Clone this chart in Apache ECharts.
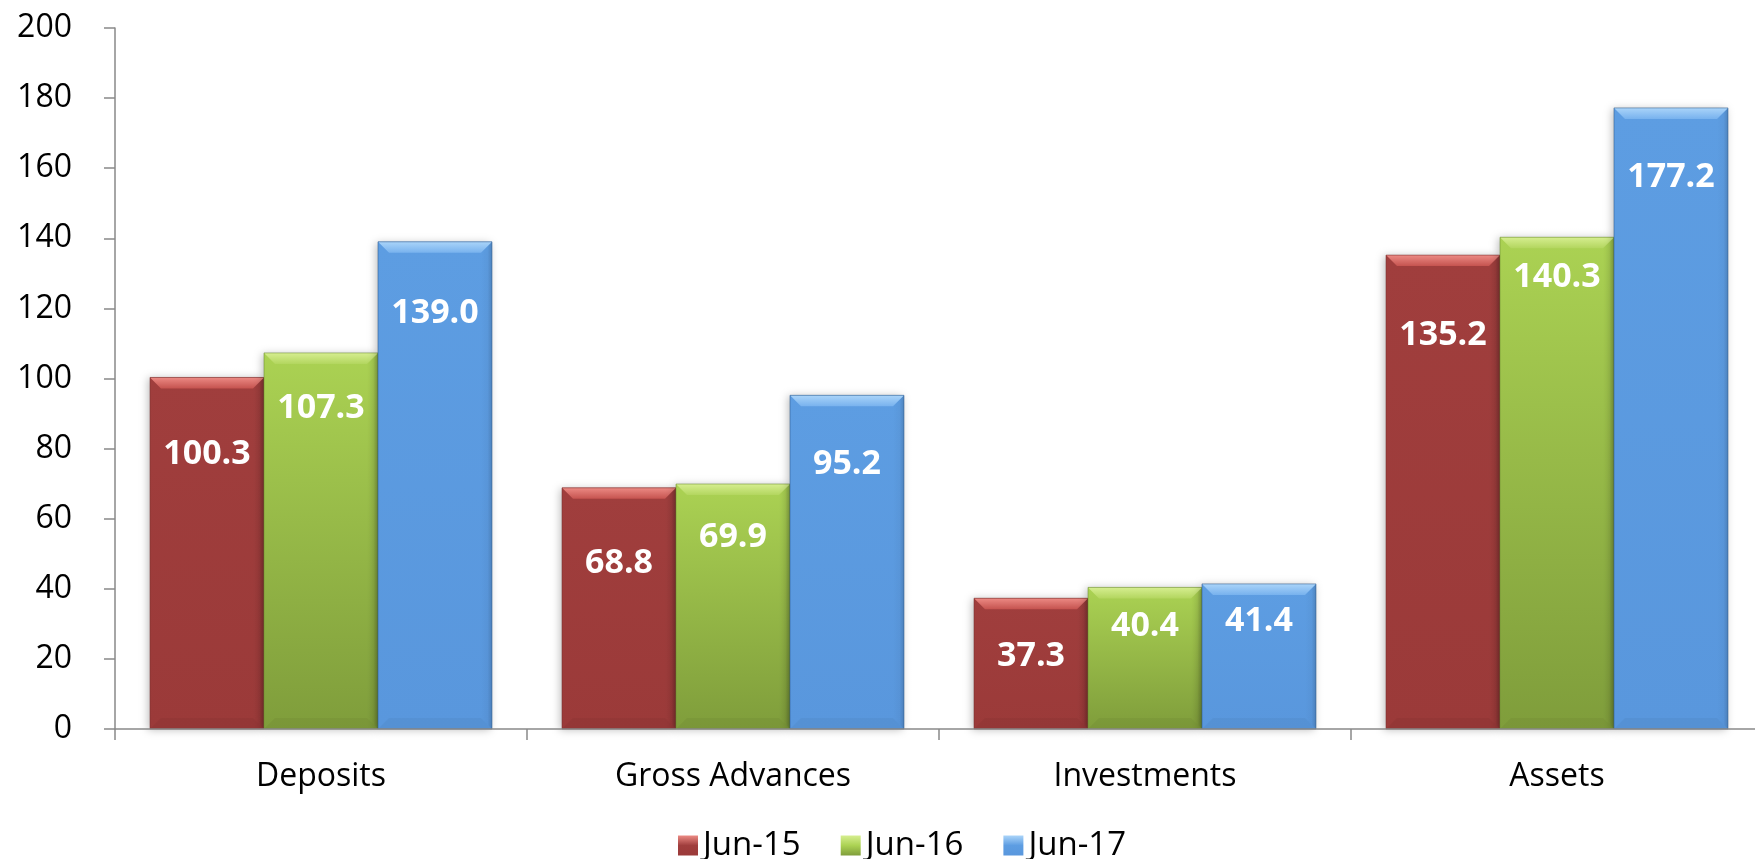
<!DOCTYPE html>
<html>
<head>
<meta charset="utf-8">
<title>Deposits, Advances, Investments and Assets</title>
<script src="https://cdn.jsdelivr.net/npm/echarts@6/dist/echarts.min.js"></script>
<style>
  html, body { margin: 0; padding: 0; background: #ffffff; }
  #chart { width: 1755px; height: 859px; }
</style>
</head>
<body>
<div id="chart"></div>
<script>
// ---- data ----
const categories = ['Deposits', 'Gross Advances', 'Investments', 'Assets'];
const periods = ['Jun-15', 'Jun-16', 'Jun-17'];
const jun15 = [100.3, 68.8, 37.3, 135.2];
const jun16 = [107.3, 69.9, 40.4, 140.3];
const jun17 = [139.0, 95.2, 41.4, 177.2];
const valueAxisMin = 0;
const valueAxisMax = 200;
const valueAxisStep = 20;

// ---- styling ----
const FONT = '"Open Sans", "Noto Sans", sans-serif';
const GROUP_GAP = 0.17;   // share of each category left empty between groups
const BEVEL = 11;         // bevel depth in px

// distance (px) from a bar's top to the centre of its value label
const labelDrop = [
  [77, 75, 58, 80],
  [55, 53, 39, 40],
  [72, 69, 37, 69]
];

const LG = echarts.graphic.LinearGradient;
const palettes = [
  { // Jun-15
    body: ['#A03E3D', '#9B3A39'],
    top: ['#EC8A84', '#C5534F'],
    edge: '#772B2A'
  },
  { // Jun-16
    body: ['#ABD253', '#7F9D3B'],
    top: ['#D6EE90', '#B3D65F'],
    edge: '#6C8A32'
  },
  { // Jun-17
    body: ['#5D9DE2', '#5997DD'],
    top: ['#AAD4F9', '#78B2EE'],
    edge: '#2D5A8C'
  }
];
const seriesValues = [jun15, jun16, jun17];

function vGrad(c) {
  return new LG(0, 0, 0, 1, [{ offset: 0, color: c[0] }, { offset: 1, color: c[1] }]);
}

function makeRender(si) {
  const pal = palettes[si];
  return function (params, api) {
    const ci = api.value(0);
    const v = api.value(1);
    const base = api.coord([ci, 0]);
    const tip = api.coord([ci, v]);
    const band = api.size([1, 0])[0];
    const gw = band * (1 - GROUP_GAP);
    const w = gw / periods.length;
    const x = base[0] - gw / 2 + w * si;
    const y = tip[1];
    const h = base[1] - tip[1];
    const d = Math.min(BEVEL, h / 2, w / 2);
    return {
      type: 'group',
      children: [
        { // bar body with soft drop shadow
          type: 'rect',
          shape: { x: x, y: y, width: w, height: h },
          style: {
            fill: vGrad(pal.body),
            shadowBlur: 8,
            shadowColor: 'rgba(0,0,0,0.25)',
            shadowOffsetX: -2,
            shadowOffsetY: 1
          }
        },
        { // right bevel
          type: 'polygon',
          shape: { points: [[x + w, y], [x + w - d, y + d], [x + w - d, y + h - d], [x + w, y + h]] },
          style: { fill: new LG(0, 0, 1, 0, [
            { offset: 0, color: 'rgba(0,0,0,0)' },
            { offset: 0.6, color: 'rgba(0,0,0,0.03)' },
            { offset: 1, color: 'rgba(0,0,0,0.16)' }]) }
        },
        { // bottom bevel
          type: 'polygon',
          shape: { points: [[x, y + h], [x + d, y + h - d], [x + w - d, y + h - d], [x + w, y + h]] },
          style: { fill: 'rgba(0,0,0,0.04)' }
        },
        { // top bevel
          type: 'polygon',
          shape: { points: [[x, y], [x + w, y], [x + w - d, y + d], [x + d, y + d]] },
          style: { fill: vGrad(pal.top) }
        },
        { // thin outline
          type: 'rect',
          shape: { x: x, y: y, width: w, height: h },
          style: { fill: null, stroke: pal.edge, lineWidth: 1, opacity: 0.55 }
        },
        { // value label
          type: 'text',
          style: {
            text: v.toFixed(1),
            x: x + w / 2,
            y: y + labelDrop[si][ci],
            align: 'center',
            verticalAlign: 'middle',
            fill: '#ffffff',
            font: 'bold 34px ' + FONT
          }
        }
      ]
    };
  };
}

const series = periods.map(function (name, si) {
  return {
    name: name,
    type: 'custom',
    renderItem: makeRender(si),
    encode: { x: 0, y: 1 },
    itemStyle: { color: new LG(0, 0, 0, 1, [
      { offset: 0, color: palettes[si].top[0] },
      { offset: 0.5, color: palettes[si].body[0] },
      { offset: 1, color: palettes[si].body[1] }]) },
    data: seriesValues[si].map(function (val, ci) { return [ci, val]; })
  };
});

const axisGrey = '#898989';

const option = {
  animation: false,
  backgroundColor: '#ffffff',
  // plot area runs slightly past the right edge of the canvas
  grid: {
    left: 115, width: 1648, top: 28, height: 701,
    containLabel: false,
    outerBoundsMode: 'none'
  },
  legend: {
    data: periods,
    left: 673,
    top: 824,
    icon: 'rect',
    itemWidth: 20,
    itemHeight: 20,
    itemGap: 40,
    textStyle: { fontFamily: FONT, fontSize: 33, color: '#000000' }
  },
  xAxis: {
    type: 'category',
    data: categories,
    z: 3,
    axisLine: { show: true, lineStyle: { color: axisGrey, width: 1.5 } },
    axisTick: { show: true, length: 11, lineStyle: { color: axisGrey, width: 1.5 } },
    axisLabel: { fontFamily: FONT, fontSize: 32, color: '#000000', margin: 32 },
    splitLine: { show: false }
  },
  yAxis: {
    type: 'value',
    min: valueAxisMin,
    max: valueAxisMax,
    interval: valueAxisStep,
    axisLine: { show: true, lineStyle: { color: axisGrey, width: 1.5 } },
    axisTick: { show: true, length: 11, lineStyle: { color: axisGrey, width: 1.5 } },
    axisLabel: { fontFamily: FONT, fontSize: 32, color: '#000000', margin: 43 },
    splitLine: { show: false }
  },
  series: series
};

const chart = echarts.init(document.getElementById('chart'), null, { renderer: 'canvas' });
chart.setOption(option);
</script>
</body>
</html>
